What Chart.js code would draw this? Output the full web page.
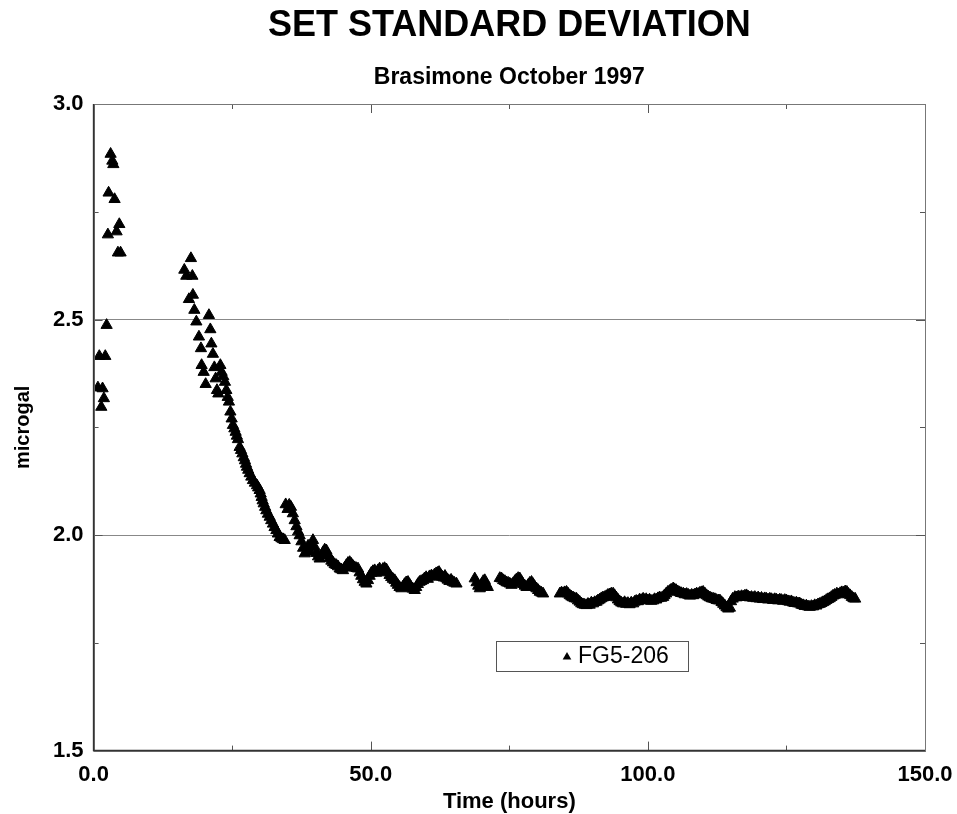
<!DOCTYPE html>
<html>
<head>
<meta charset="utf-8">
<script src="https://cdn.jsdelivr.net/npm/chart.js@4.4.1/dist/chart.umd.min.js"></script>
<style>
  html, body { margin: 0; padding: 0; background: #fff; }
  #wrap { width: 957px; height: 814px; }
</style>
</head>
<body>
<div id="wrap"><canvas id="chartStd" width="957" height="814"></canvas></div>
<script>
const chartTitle = 'SET STANDARD DEVIATION'
const chartSubtitle = 'Brasimone October 1997'
const seriesLabel = 'FG5-206'
const xTitle = 'Time (hours)'
const yTitle = 'microgal'

// time of each set (hours)
const hours = [
  0.78, 1.03, 1.39, 1.62, 1.86, 2.11, 2.35, 2.58, 2.71, 3.07, 3.38, 3.56, 3.79, 4.15, 4.39, 4.64, 4.87,
  16.37, 16.73, 17.20, 17.56, 17.82, 17.92, 18.18, 18.54, 19.01, 19.37, 19.49, 19.86, 20.22, 20.81, 21.06, 21.25,
  21.53, 21.79, 22.02, 22.26, 22.51, 22.87, 23.10, 23.40, 23.70, 23.95, 24.20, 24.42, 24.68, 24.91, 25.14, 25.40,
  25.63, 25.85, 26.05, 26.35, 26.60, 26.84, 27.10, 27.31, 27.50, 27.67, 27.90, 28.16, 28.45, 28.75, 29.10, 29.48,
  29.70, 29.96, 30.15, 30.32, 30.50, 30.69, 30.95, 31.17, 31.45, 31.77, 32.05, 32.36, 32.65, 32.98, 33.25, 33.57,
  33.90, 34.20, 34.48, 34.66, 35.00, 35.30, 35.61, 35.95, 36.28, 36.60, 36.90, 37.18, 37.50, 37.80, 38.09, 38.40,
  38.70, 38.99, 39.30, 39.58, 39.90, 40.20, 40.50, 40.79, 41.10, 41.40, 41.70, 42.00, 42.30, 42.60, 42.90, 43.20,
  43.50, 43.81, 44.10, 44.40, 44.70, 45.00, 45.30, 45.60, 45.90, 46.21, 46.50, 46.80, 47.10, 47.40, 47.71, 48.00,
  48.30, 48.60, 48.90, 49.22, 49.50, 49.80, 50.10, 50.40, 50.72, 51.00, 51.30, 51.60, 51.90, 52.20, 52.50, 52.83,
  53.10, 53.40, 53.70, 54.00, 54.33, 54.60, 54.90, 55.20, 55.54, 55.80, 56.10, 56.40, 56.73, 57.00, 57.30, 57.60,
  57.94, 58.20, 58.50, 58.80, 59.10, 59.44, 59.70, 60.00, 60.30, 60.60, 60.96, 61.20, 61.50, 61.80, 62.05, 62.33,
  62.60, 62.90, 63.20, 63.40, 63.66, 63.90, 64.20, 64.50, 64.80, 65.10, 65.47,
  68.77, 69.10, 69.40, 69.68, 70.00, 70.30, 70.58, 70.85, 71.12,
  73.29, 73.60, 73.90, 74.20, 74.50, 74.80, 75.09, 75.40, 75.70, 76.00, 76.30, 76.60, 76.90, 77.20, 77.50, 77.80,
  78.10, 78.40, 78.70, 79.01, 79.30, 79.60, 79.90, 80.20, 80.50, 80.80, 81.10,
  84.12, 84.40, 84.70, 85.00, 85.33, 85.60, 85.90, 86.20, 86.50, 86.80, 87.13, 87.40, 87.70, 88.00, 88.30, 88.60,
  88.94, 89.20, 89.50, 89.80, 90.10, 90.40, 90.74, 91.00, 91.30, 91.60, 91.90, 92.24, 92.50, 92.80, 93.10, 93.40,
  93.74, 94.00, 94.30, 94.60, 94.90, 95.20, 95.54, 95.80, 96.10, 96.40, 96.70, 97.00, 97.35, 97.60, 97.90, 98.20,
  98.50, 98.80, 99.15, 99.40, 99.70, 100.00, 100.30, 100.60, 100.96, 101.20, 101.50, 101.80, 102.10, 102.40, 102.76, 103.00,
  103.30, 103.60, 103.90, 104.20, 104.57, 104.80, 105.10, 105.40, 105.70, 106.00, 106.38, 106.70, 107.00, 107.30, 107.60, 107.90,
  108.18, 108.50, 108.80, 109.10, 109.40, 109.70, 109.98, 110.30, 110.60, 110.90, 111.20, 111.50, 111.79, 112.10, 112.40, 112.70,
  113.00, 113.30, 113.60, 113.90, 114.20, 114.50, 114.80, 115.00, 115.30, 115.70, 116.00, 116.30, 116.60, 116.90, 117.20, 117.50,
  117.80, 118.10, 118.40, 118.70, 119.00, 119.30, 119.60, 119.90, 120.20, 120.50, 120.80, 121.10, 121.40, 121.70, 122.00, 122.30,
  122.60, 122.90, 123.20, 123.50, 123.80, 124.10, 124.40, 124.70, 125.00, 125.30, 125.60, 125.90, 126.20, 126.50, 126.80, 127.10,
  127.40, 127.70, 128.00, 128.30, 128.60, 128.90, 129.20, 129.50, 129.80, 130.10, 130.40, 130.70, 131.00, 131.30, 131.60, 131.90,
  132.20, 132.50, 132.80, 133.10, 133.40, 133.70, 134.10, 134.40, 134.70, 135.00, 135.30, 135.60, 135.90, 136.20, 136.50, 136.80,
  137.10, 137.40
]

// set standard deviation (microgal)
const stdDev = [
  2.342, 2.415, 2.297, 2.340, 2.317, 2.415, 2.487, 2.697, 2.794, 2.884, 2.868, 2.860, 2.779, 2.704, 2.655, 2.721, 2.655,
  2.615, 2.601, 2.547, 2.642, 2.601, 2.557, 2.522, 2.495, 2.460, 2.433, 2.394, 2.378, 2.350, 2.510, 2.477, 2.444,
  2.420, 2.389, 2.363, 2.336, 2.328, 2.394, 2.378, 2.368, 2.355, 2.336, 2.320, 2.309, 2.286, 2.270, 2.255, 2.247,
  2.239, 2.230, 2.222, 2.204, 2.197, 2.189, 2.180, 2.173, 2.165, 2.158, 2.151, 2.143, 2.135, 2.127, 2.121, 2.115,
  2.110, 2.104, 2.096, 2.088, 2.080, 2.073, 2.065, 2.057, 2.049, 2.042, 2.034, 2.026, 2.018, 2.011, 2.003, 1.995,
  1.992, 1.990, 1.988, 2.071, 2.060, 2.070, 2.065, 2.050, 2.034, 2.020, 2.008, 1.999, 1.985, 1.970, 1.957, 1.962,
  1.975, 1.961, 1.975, 1.988, 1.972, 1.958, 1.950, 1.945, 1.952, 1.960, 1.966, 1.964, 1.955, 1.946, 1.940, 1.936,
  1.932, 1.930, 1.927, 1.922, 1.920, 1.918, 1.924, 1.930, 1.935, 1.937, 1.933, 1.928, 1.925, 1.923, 1.922, 1.913,
  1.905, 1.897, 1.891, 1.887, 1.895, 1.905, 1.912, 1.916, 1.918, 1.912, 1.918, 1.922, 1.915, 1.921, 1.923, 1.920,
  1.913, 1.907, 1.902, 1.898, 1.895, 1.889, 1.884, 1.879, 1.876, 1.880, 1.886, 1.890, 1.891, 1.885, 1.879, 1.875,
  1.872, 1.879, 1.886, 1.891, 1.893, 1.895, 1.899, 1.902, 1.898, 1.904, 1.906, 1.903, 1.908, 1.911, 1.912, 1.914,
  1.908, 1.903, 1.901, 1.905, 1.899, 1.896, 1.893, 1.896, 1.891, 1.889, 1.887,
  1.899, 1.890, 1.882, 1.876, 1.886, 1.893, 1.895, 1.886, 1.879,
  1.900, 1.899, 1.895, 1.893, 1.890, 1.889, 1.887, 1.884, 1.888, 1.893, 1.897, 1.900, 1.899, 1.892, 1.886, 1.882,
  1.879, 1.884, 1.889, 1.891, 1.886, 1.880, 1.876, 1.872, 1.868, 1.866, 1.864,
  1.864, 1.866, 1.865, 1.867, 1.868, 1.864, 1.860, 1.857, 1.855, 1.853, 1.852, 1.848, 1.845, 1.841, 1.839, 1.838,
  1.837, 1.840, 1.838, 1.843, 1.841, 1.844, 1.845, 1.848, 1.850, 1.853, 1.855, 1.856, 1.858, 1.861, 1.862, 1.864,
  1.864, 1.860, 1.855, 1.850, 1.846, 1.843, 1.841, 1.844, 1.840, 1.842, 1.839, 1.843, 1.841, 1.845, 1.847, 1.846,
  1.850, 1.849, 1.852, 1.849, 1.851, 1.848, 1.850, 1.847, 1.848, 1.851, 1.850, 1.853, 1.855, 1.854, 1.856, 1.860,
  1.864, 1.868, 1.870, 1.873, 1.876, 1.874, 1.872, 1.869, 1.867, 1.865, 1.864, 1.862, 1.863, 1.861, 1.859, 1.861,
  1.860, 1.862, 1.864, 1.863, 1.866, 1.867, 1.868, 1.864, 1.860, 1.857, 1.855, 1.853, 1.852, 1.851, 1.849, 1.848,
  1.848, 1.844, 1.840, 1.836, 1.832, 1.829, 1.831, 1.846, 1.852, 1.856, 1.855, 1.857, 1.856, 1.858, 1.857, 1.859,
  1.860, 1.857, 1.855, 1.856, 1.854, 1.856, 1.853, 1.855, 1.852, 1.854, 1.851, 1.853, 1.852, 1.850, 1.852, 1.851,
  1.849, 1.851, 1.850, 1.848, 1.850, 1.849, 1.847, 1.849, 1.848, 1.846, 1.845, 1.846, 1.843, 1.842, 1.843, 1.841,
  1.841, 1.838, 1.837, 1.835, 1.836, 1.834, 1.833, 1.835, 1.834, 1.837, 1.836, 1.839, 1.840, 1.842, 1.844, 1.846,
  1.849, 1.851, 1.853, 1.856, 1.859, 1.861, 1.864, 1.862, 1.865, 1.867, 1.866, 1.869, 1.868, 1.863, 1.860, 1.856,
  1.853, 1.852
]

const xMin = 0, xMax = 150, xStep = 25, xLabelEvery = 50
const yMin = 1.5, yMax = 3.0, yStep = 0.25, yLabelEvery = 0.5
const yGridLines = [2.0, 2.5]

const FONT = '"Liberation Sans", Arial, Helvetica, sans-serif'

const isMultiple = (v, m) => Math.abs(v / m - Math.round(v / m)) < 1e-6

// titles, frame, inner tick marks and the boxed legend
const framePlugin = {
    id: 'frame',
    afterDraw(chart) {
        const { ctx, chartArea: a, scales } = chart
        const mid = (a.left + a.right) / 2
        ctx.save()
        ctx.fillStyle = '#000'
        ctx.textAlign = 'center'
        ctx.textBaseline = 'middle'
        ctx.font = 'bold 36px ' + FONT
        ctx.fillText(chartTitle, mid, 26)
        ctx.font = 'bold 23px ' + FONT
        ctx.fillText(chartSubtitle, mid, 78)

        // inner ticks
        ctx.strokeStyle = '#555'
        ctx.lineWidth = 1
        ctx.beginPath()
        for (let v = xMin; v <= xMax + 1e-9; v += xStep) {
            const px = Math.round(scales.x.getPixelForValue(v)) + 0.5
            const len = isMultiple(v, xLabelEvery) ? 9 : 5
            ctx.moveTo(px, a.bottom); ctx.lineTo(px, a.bottom - len)
            ctx.moveTo(px, a.top); ctx.lineTo(px, a.top + len)
        }
        for (let v = yMin; v <= yMax + 1e-9; v += yStep) {
            const py = Math.round(scales.y.getPixelForValue(v)) + 0.5
            const len = isMultiple(v, yLabelEvery) ? 9 : 5
            ctx.moveTo(a.left, py); ctx.lineTo(a.left + len, py)
            ctx.moveTo(a.right, py); ctx.lineTo(a.right - len, py)
        }
        ctx.stroke()

        // frame
        ctx.strokeStyle = '#777'
        ctx.lineWidth = 1
        ctx.strokeRect(Math.round(a.left) + 0.5, Math.round(a.top) + 0.5,
            Math.round(a.right - a.left), Math.round(a.bottom - a.top))
        ctx.strokeStyle = '#333'
        ctx.lineWidth = 1.5
        ctx.beginPath()
        ctx.moveTo(a.left, a.top); ctx.lineTo(a.left, a.bottom); ctx.lineTo(a.right, a.bottom)
        ctx.stroke()

        // legend box
        const lx = 496, ly = 641, lw = 192, lh = 30
        ctx.fillStyle = '#fff'
        ctx.fillRect(lx, ly, lw, lh)
        ctx.strokeStyle = '#555'
        ctx.lineWidth = 1
        ctx.strokeRect(lx + 0.5, ly + 0.5, lw, lh)
        const cx = 567, cy = ly + lh / 2 + 1, r = 5
        ctx.fillStyle = '#000'
        ctx.beginPath()
        ctx.moveTo(cx, cy - r)
        ctx.lineTo(cx + r * 0.866, cy + r * 0.5)
        ctx.lineTo(cx - r * 0.866, cy + r * 0.5)
        ctx.closePath()
        ctx.fill()
        ctx.font = '23px ' + FONT
        ctx.textAlign = 'left'
        ctx.fillText(chart.data.datasets[0].label, 578, ly + lh / 2 + 1)
        ctx.restore()
    }
}

new Chart(document.getElementById('chartStd'), {
    type: 'scatter',
    data: {
        datasets: [{
            label: seriesLabel,
            data: hours.map((h, i) => ({ x: h, y: stdDev[i] })),
            pointStyle: 'triangle',
            pointRadius: 6.5,
            pointHoverRadius: 6.5,
            backgroundColor: '#000',
            borderColor: '#000',
            borderWidth: 1
        }]
    },
    options: {
        responsive: false,
        animation: false,
        layout: { padding: { top: 104, left: 11, right: 32, bottom: 1 } },
        scales: {
            x: {
                type: 'linear',
                min: xMin, max: xMax,
                border: { display: false },
                grid: { display: false },
                ticks: {
                    stepSize: xStep,
                    padding: 3,
                    color: '#000',
                    font: { family: FONT, size: 22, weight: 'bold' },
                    callback: v => isMultiple(v, xLabelEvery) ? v.toFixed(1) : ''
                },
                title: {
                    display: true, text: xTitle, color: '#000',
                    font: { family: FONT, size: 22, weight: 'bold', lineHeight: 1.0 },
                    padding: { top: 0, bottom: 0 }
                }
            },
            y: {
                min: yMin, max: yMax,
                border: { display: false },
                grid: {
                    drawTicks: false,
                    lineWidth: 1,
                    color: c => yGridLines.some(g => Math.abs(c.tick.value - g) < 1e-6) ? '#888' : 'rgba(0,0,0,0)'
                },
                ticks: {
                    stepSize: yStep,
                    padding: 10,
                    color: '#000',
                    font: { family: FONT, size: 22, weight: 'bold' },
                    callback: v => isMultiple(v, yLabelEvery) ? v.toFixed(1) : ''
                },
                title: {
                    display: true, text: yTitle, color: '#000',
                    font: { family: FONT, size: 20, weight: 'bold' },
                    padding: { top: 0, bottom: 8 }
                }
            }
        },
        plugins: {
            legend: { display: false },
            tooltip: { enabled: false }
        }
    },
    plugins: [framePlugin]
})
</script>
</body>
</html>
